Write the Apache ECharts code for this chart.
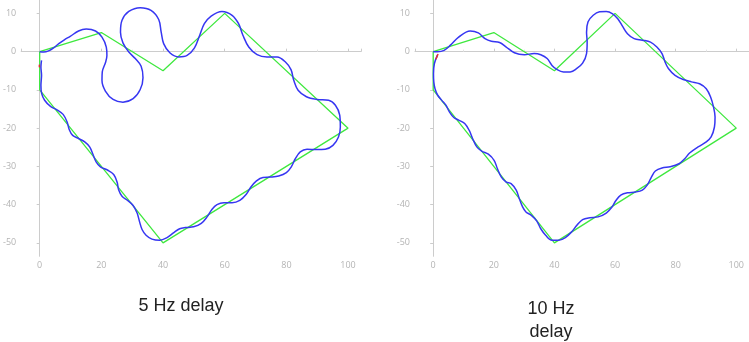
<!DOCTYPE html>
<html>
<head>
<meta charset="utf-8">
<script src="https://cdn.jsdelivr.net/npm/echarts@6/dist/echarts.min.js"></script>
<style>
html,body{margin:0;padding:0;background:#fff;}
#c{width:749px;height:342px;}
</style>
</head>
<body>
<div id="c"></div>
<script>
// Reference polygon (same in both panels)
const targetPath = [[0,0],[20,5],[40,-5],[60,10],[100,-20],[40,-50],[0,-10],[0,0]];

// 5 Hz delay: traced blue path
const blue5Hz = [
[0,0],[1.3,-0.1],[2.9,0.2],[4.4,0.9],[6.2,2.1],[8.0,3.1],[9.9,4.0],[12.6,5.4],[15.1,5.9],[18.1,5.4],
[20.2,3.8],[21.6,1.2],[21.8,-1.0],[21.4,-2.7],[20.3,-5.3],[20.2,-7.5],[21.3,-10.3],[23.8,-12.5],[27.0,-13.2],
[30.3,-12.3],[32.6,-9.9],[33.5,-6.8],[32.9,-3.8],[31.0,-1.8],[28.9,-0.1],[27.0,2.3],[26.2,5.1],[26.7,8.2],
[28.9,10.5],[32.6,11.5],[36.1,10.8],[38.6,8.4],[39.4,5.1],[40.2,2.1],[42.2,-0.3],[45.1,-1.4],[47.8,-1.0],
[50.2,1.0],[51.9,4.3],[53.4,7.3],[55.6,9.3],[59.1,10.5],[62.4,9.5],[64.5,7.3],[65.9,4.3],[67.8,1.2],
[70.5,-0.8],[73.7,-1.4],[77.0,-1.4],[79.7,-2.7],[81.5,-4.7],[82.4,-7.5],[83.8,-10.1],[86.5,-11.8],
[89.9,-12.5],[93.7,-12.7],[95.9,-14.0],[97.3,-16.6],[97.5,-19.7],[96.9,-22.3],[95.1,-24.5],[92.6,-25.5],
[89.7,-25.6],[86.7,-25.5],[84.5,-26.2],[82.9,-28.0],[81.6,-30.1],[80.0,-31.6],[77.5,-32.5],[74.8,-32.8],
[72.4,-32.9],[70.3,-33.8],[68.5,-35.4],[67.0,-37.3],[64.9,-38.9],[62.4,-39.5],[59.7,-39.5],[57.5,-40.0],
[55.9,-41.2],[54.3,-43.2],[52.4,-44.9],[49.9,-45.8],[47.2,-46.0],[45.4,-46.3],[43.5,-47.3],[41.3,-48.6],
[38.9,-49.3],[36.4,-49.0],[34.5,-48.0],[33.2,-46.5],[32.4,-44.5],[31.6,-42.2],[30.3,-40.2],[28.5,-38.9],
[26.7,-37.8],[25.6,-36.1],[25.1,-34.1],[24.0,-32.1],[22.1,-31.0],[19.7,-30.1],[18.3,-28.8],[17.3,-26.9],
[16.2,-24.9],[14.6,-23.6],[12.6,-22.7],[10.7,-21.9],[9.6,-20.4],[8.9,-18.4],[7.6,-16.4],[5.6,-15.2],
[3.5,-14.3],[1.6,-12.7],[0.6,-10.8],[0.4,-8.8],[0.6,-6.2],[0.4,-4.0],[0.6,-2.3]
];
const red5Hz = [[-0.1,-3.4],[-0.1,-4.1]];

// 10 Hz delay: traced blue path
const blue10Hz = [
[0,0],[1.4,0],[3.6,0.35],[5.7,1.7],[8.4,3.8],[12.2,5.4],[14.9,4.9],[17.1,3.4],[19.2,2.7],[21.9,2.4],
[24.1,1.2],[26.8,-0.3],[30.1,-0.8],[33.3,-0.5],[35.5,-0.8],[37.6,-1.8],[39.2,-3.6],[40.9,-4.7],[43.0,-5.3],
[45.2,-5.3],[47.4,-4.4],[49.3,-3.0],[50.6,-0.5],[50.8,2.5],[50.6,5.1],[51.1,7.8],[52.8,9.5],[54.9,10.4],
[57.1,10.5],[59.2,9.9],[60.9,8.6],[62.5,6.6],[64.1,4.7],[66.3,3.4],[69.0,3.0],[71.7,2.5],[73.8,1.2],
[75.5,-0.5],[76.5,-2.7],[77.6,-4.4],[79.8,-6.2],[82.5,-7.3],[85.2,-7.9],[87.9,-8.4],[90.1,-9.7],
[91.5,-11.8],[92.5,-14.5],[93.0,-17.1],[92.8,-19.7],[91.7,-22.3],[90.1,-23.6],[87.4,-24.9],[84.6,-26.5],
[83.0,-28.0],[81.1,-29.3],[78.2,-30.1],[75.5,-30.4],[73.3,-31.2],[72.0,-32.8],[70.6,-34.9],[69.0,-36.2],
[66.8,-36.7],[64.1,-36.9],[61.9,-37.5],[60.3,-38.9],[59.0,-40.6],[57.1,-42.2],[54.4,-43.2],[51.7,-43.4],
[49.3,-43.9],[47.4,-45.4],[45.7,-47.1],[43.6,-48.6],[41.4,-49.3],[39.2,-49.3],[37.1,-48.0],[35.5,-46.3],
[34.2,-44.3],[32.4,-42.8],[30.6,-41.9],[29.5,-40.6],[28.4,-38.4],[27.4,-36.2],[25.7,-34.5],[24.1,-34.1],
[22.5,-32.8],[21.2,-30.6],[20.1,-28.4],[18.2,-26.8],[16.0,-26.0],[14.4,-24.9],[13.0,-22.7],[11.9,-20.6],
[10.4,-18.8],[8.4,-17.9],[6.8,-17.2],[5.4,-15.8],[4.2,-14.0],[2.9,-12.8],[1.5,-11.4],[0.6,-9.7],
[0.2,-7.9],[0.1,-5.7],[0.4,-3.1],[1.4,-0.9]
];
const red10Hz = [[1.6,-0.6],[0.9,-2.0]];

const panelTitles = ['5 Hz delay', '10 Hz\ndelay'];
const xRange = [-6, 104.2];
const yRange = [-53.5, 13.5];

const labelStyle = {color:'#b4b4b4', fontSize:9, fontFamily:'Open Sans, sans-serif'};
function xAxis(i){
  return {type:'value', gridIndex:i, min:xRange[0], max:xRange[1], splitNumber:5,
    axisLine:{show:true, lineStyle:{color:'#cccccc', width:1}},
    axisTick:{show:true, inside:true, length:3, lineStyle:{color:'#cccccc'}},
    minorTick:{show:true, splitNumber:2, length:2, lineStyle:{color:'#e4e4e4'}},
    splitLine:{show:false},
    axisLabel:Object.assign({margin:5, showMinLabel:false, showMaxLabel:false}, labelStyle)};
}
function yAxis(i){
  return {type:'value', gridIndex:i, min:yRange[0], max:yRange[1], splitNumber:6,
    axisLine:{show:true, lineStyle:{color:'#cccccc', width:1}},
    axisTick:{show:true, inside:false, length:3, lineStyle:{color:'#cccccc'}},
    splitLine:{show:false},
    axisLabel:Object.assign({margin:5, showMinLabel:false, showMaxLabel:false}, labelStyle)};
}
function lineSeries(data, i, color, width, z){
  return {type:'line', xAxisIndex:i, yAxisIndex:i, data:data, showSymbol:false, symbol:'none',
    smooth:0.35, lineStyle:{color:color, width:width}, z:z, animation:false};
}
function polySeries(data, i){
  return {type:'line', xAxisIndex:i, yAxisIndex:i, data:data, showSymbol:false, symbol:'none',
    lineStyle:{color:'#3ee83e', width:1.3}, z:2, animation:false};
}

const chart = echarts.init(document.getElementById('c'), null, {renderer:'canvas'});
chart.setOption({
  backgroundColor:'#ffffff',
  animation:false,
  title:[
    {text:panelTitles[0], left:176, top:292, textAlign:'center',
     textStyle:{fontFamily:'Liberation Sans, Arial, sans-serif', fontSize:18, fontWeight:'normal', color:'#222'}},
    {text:panelTitles[1], left:546, top:293, textAlign:'center',
     textStyle:{fontFamily:'Liberation Sans, Arial, sans-serif', fontSize:18, fontWeight:'normal', color:'#222', lineHeight:23}}
  ],
  grid:[
    {left:20.7, top:0, width:340.3, height:256.3},
    {left:415, top:0, width:340.3, height:256.3}
  ],
  xAxis:[xAxis(0), xAxis(1)],
  yAxis:[yAxis(0), yAxis(1)],
  series:[
    polySeries(targetPath, 0),
    lineSeries(blue5Hz, 0, '#3636f2', 1.5, 3),
    lineSeries(red5Hz, 0, '#e03030', 1.5, 4),
    polySeries(targetPath, 1),
    lineSeries(blue10Hz, 1, '#3636f2', 1.5, 3),
    lineSeries(red10Hz, 1, '#e03030', 1.5, 4)
  ]
});
</script>
</body>
</html>
